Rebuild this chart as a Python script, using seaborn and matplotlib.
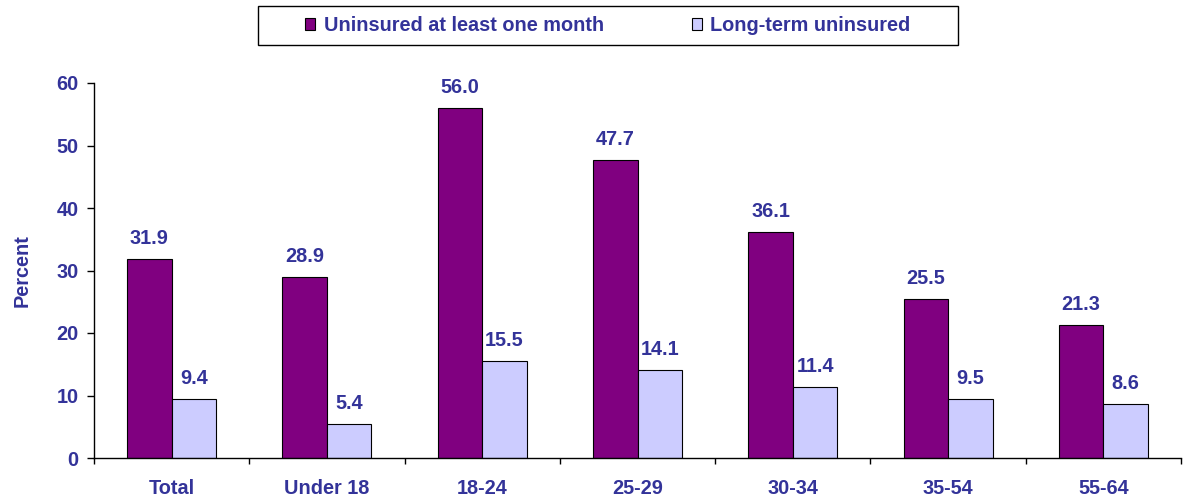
import matplotlib
matplotlib.use("Agg")
import matplotlib.pyplot as plt
import matplotlib.patches as mpatches
from matplotlib.ticker import FixedLocator
import seaborn as sns
import pandas as pd

categories = ["Total", "Under 18", "18-24", "25-29", "30-34", "35-54", "55-64"]
series_names = ["Uninsured at least one month", "Long-term uninsured"]
uninsured_month = [31.9, 28.9, 56.0, 47.7, 36.1, 25.5, 21.3]
long_term = [9.4, 5.4, 15.5, 14.1, 11.4, 9.5, 8.6]
y_ticks = [0, 10, 20, 30, 40, 50, 60]

TXT = "#333399"
colors = ["#800080", "#CCCCFF"]

sns.set_style("white")
plt.rcParams["font.family"] = ["Liberation Sans", "DejaVu Sans"]
plt.rcParams["font.weight"] = "bold"
FS = 14.3

df = pd.DataFrame({
    "category": categories * 2,
    "series": [series_names[0]] * len(categories) + [series_names[1]] * len(categories),
    "value": uninsured_month + long_term,
})

fig = plt.figure(figsize=(11.83, 5.04), dpi=100)
ax = fig.add_axes([94 / 1183, 46 / 504, 1087 / 1183, 375 / 504])

sns.barplot(data=df, x="category", y="value", hue="series", order=categories,
            hue_order=series_names, palette=colors, width=0.574, saturation=1,
            edgecolor="black", linewidth=0.8, ax=ax)

for cont in ax.containers:
    ax.bar_label(cont, fmt="%.1f", padding=8, color=TXT, fontsize=FS, fontweight="bold")

ax.set_xlim(-0.5, len(categories) - 0.5)
ax.set_ylim(0, 60)
ax.set_yticks(y_ticks)
ax.set_xlabel("")
ax.set_ylabel("Percent", color=TXT, fontsize=FS, fontweight="bold")
ax.yaxis.set_label_coords(-0.057, 0.5)

for s in ["top", "right"]:
    ax.spines[s].set_visible(False)
for s in ["left", "bottom"]:
    ax.spines[s].set_color("black")
    ax.spines[s].set_linewidth(1)

ax.tick_params(axis="y", direction="out", length=5, width=1, color="black",
               pad=6, labelcolor=TXT, labelsize=FS, left=True)
ax.tick_params(axis="x", which="major", length=0, pad=15, labelcolor=TXT, labelsize=FS)
ax.xaxis.set_minor_locator(FixedLocator([i - 0.5 for i in range(len(categories) + 1)]))
ax.tick_params(axis="x", which="minor", direction="out", length=4, width=1,
               color="black", bottom=True)
for lbl in ax.get_xticklabels() + ax.get_yticklabels():
    lbl.set_fontweight("bold")

ax.get_legend().remove()
handles = [mpatches.Patch(facecolor=c, edgecolor="black", linewidth=0.8) for c in colors]
fig.legend(handles, series_names, loc="center", bbox_to_anchor=(608 / 1183, 1 - 25.5 / 504),
           ncol=2, frameon=False, labelcolor=TXT, handlelength=0.5,
           handleheight=0.5, handletextpad=0.45, columnspacing=4.4,
           prop={"weight": "bold", "size": FS})
fig.patches.append(mpatches.Rectangle((258 / 1183, 1 - 45 / 504), 700 / 1183, 39 / 504,
                                      transform=fig.transFigure, fill=False,
                                      edgecolor="black", linewidth=1))

fig.savefig("out.png", dpi=100)
